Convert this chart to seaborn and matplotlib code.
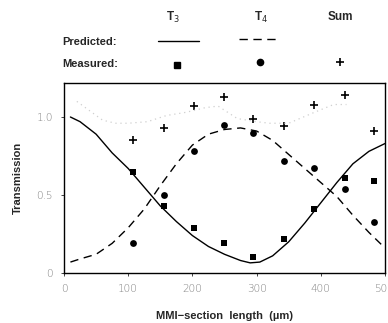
import numpy as np
import pandas as pd
import matplotlib
matplotlib.use("Agg")
import matplotlib.pyplot as plt
from matplotlib.lines import Line2D
import seaborn as sns

# ---- data ----
# predicted curves, sampled along MMI-section length (um)
curve_x = [10, 25, 50, 75, 100, 125, 150, 175, 200, 225, 250, 275, 290, 305,
           325, 350, 375, 400, 425, 450, 475, 500]
t3_pred = [1.00, 0.97, 0.89, 0.77, 0.67, 0.55, 0.43, 0.33, 0.24, 0.17, 0.12,
           0.08, 0.065, 0.07, 0.11, 0.20, 0.32, 0.45, 0.58, 0.70, 0.78, 0.83]
t4_x = [10, 25, 50, 75, 100, 125, 150, 175, 200, 225, 250, 275, 300, 325,
        350, 375, 400, 425, 450, 475, 495]
t4_pred = [0.07, 0.09, 0.12, 0.19, 0.29, 0.41, 0.56, 0.70, 0.82, 0.89, 0.92,
           0.93, 0.91, 0.85, 0.76, 0.67, 0.58, 0.49, 0.37, 0.26, 0.18]
sum_x = [20, 40, 60, 80, 100, 130, 160, 190, 220, 240, 270, 300, 320, 350,
         390, 420, 440]
sum_pred = [1.10, 1.04, 0.98, 0.96, 0.96, 0.97, 1.01, 1.03, 1.06, 1.07, 0.99,
            0.97, 0.96, 0.96, 1.03, 1.08, 1.08]

# measured points
meas_x = [108, 155, 202, 249, 295, 343, 390, 437, 483]
t3_meas = [0.65, 0.43, 0.29, 0.19, 0.10, 0.22, 0.41, 0.61, 0.59]
t4_meas = [0.19, 0.50, 0.78, 0.95, 0.90, 0.72, 0.67, 0.54, 0.33]
sum_meas = [0.85, 0.93, 1.07, 1.13, 0.99, 0.94, 1.08, 1.14, 0.91]

header_labels = ["T$_3$", "T$_4$", "Sum"]
row_labels = ["Predicted:", "Measured:"]
xticks = [0, 100, 200, 300, 400, 500]
yticks = [0, 0.5, 1.0]
ytick_labels = ["0", "0.5", "1.0"]

# ---- figure ----
sns.set_style("ticks")
plt.rcParams["font.family"] = ["Liberation Sans", "DejaVu Sans"]

fig = plt.figure(figsize=(3.88, 3.23), dpi=100)
ax = fig.add_axes([64 / 388, 1 - 273 / 323, (385 - 64) / 388, (273 - 83) / 323])

df_t3 = pd.DataFrame({"x": curve_x, "y": t3_pred})
df_t4 = pd.DataFrame({"x": t4_x, "y": t4_pred})
df_sum = pd.DataFrame({"x": sum_x, "y": sum_pred})

sns.lineplot(data=df_sum, x="x", y="y", ax=ax, color="#cfcfcf", lw=0.9,
             linestyle=(0, (1, 3)), sort=False)
sns.lineplot(data=df_t3, x="x", y="y", ax=ax, color="black", lw=1.0, sort=False)
sns.lineplot(data=df_t4, x="x", y="y", ax=ax, color="black", lw=1.0,
             linestyle=(0, (6, 4)), sort=False)

dm = pd.DataFrame({"x": meas_x, "t3": t3_meas, "t4": t4_meas, "s": sum_meas})
sns.scatterplot(data=dm, x="x", y="t3", ax=ax, marker="s", color="black",
                s=22, edgecolor="black", linewidth=0)
sns.scatterplot(data=dm, x="x", y="t4", ax=ax, marker="o", color="black",
                s=24, edgecolor="black", linewidth=0)
sns.scatterplot(data=dm, x="x", y="s", ax=ax, marker="+", color="black",
                s=36, linewidth=1.2)

ax.set_xlim(0, 500)
ax.set_ylim(0, 1.218)
ax.set_xticks(xticks)
ax.set_xticklabels([str(t) for t in xticks])
ax.set_yticks(yticks)
ax.set_yticklabels(ytick_labels)
ax.tick_params(axis="both", direction="out", length=2, width=0.6,
               labelsize=7.5, labelcolor="#808080", pad=6)
for lab in ax.get_xticklabels() + ax.get_yticklabels():
    lab.set_family(["DejaVu Sans"])
    lab.set_fontweight("light")
for sp in ax.spines.values():
    sp.set_visible(True)
    sp.set_linewidth(1.0)
    sp.set_color("black")

ax.set_xlabel("MMI\u2212section  length  (\u00b5m)", fontsize=8, fontweight="bold",
              labelpad=12)
ax.set_ylabel("Transmission", fontsize=8, fontweight="bold", labelpad=10)

# ---- legend table at top ----
col_x = [173 / 388, 261 / 388, 340 / 388]
for cx, lab in zip(col_x, header_labels):
    fig.text(cx, 1 - 17 / 323, lab, ha="center", va="center", fontsize=8.5,
             fontweight="bold")
fig.text(62 / 388, 1 - 42 / 323, row_labels[0], ha="left", va="center",
         fontsize=8, fontweight="bold")
fig.text(62 / 388, 1 - 64 / 323, row_labels[1], ha="left", va="center",
         fontsize=8, fontweight="bold")

fig.add_artist(Line2D([158 / 388, 199 / 388], [1 - 41 / 323] * 2,
                      transform=fig.transFigure, color="black", lw=1.0))
fig.add_artist(Line2D([239 / 388, 279 / 388], [1 - 39 / 323] * 2,
                      transform=fig.transFigure, color="black", lw=1.0,
                      linestyle=(0, (6, 4))))
fig.add_artist(Line2D([177 / 388], [1 - 65 / 323], transform=fig.transFigure,
                      marker="s", markersize=4.5, color="black", lw=0))
fig.add_artist(Line2D([260 / 388], [1 - 62 / 323], transform=fig.transFigure,
                      marker="o", markersize=4.5, color="black", lw=0))
fig.add_artist(Line2D([340 / 388], [1 - 62 / 323], transform=fig.transFigure,
                      marker="+", markersize=6, markeredgewidth=1.2,
                      color="black", lw=0))

fig.savefig("out.png", dpi=100)
